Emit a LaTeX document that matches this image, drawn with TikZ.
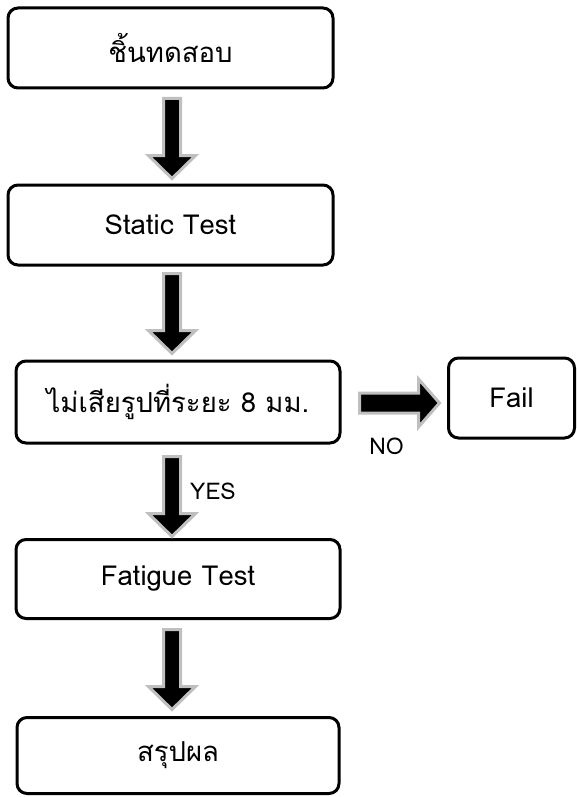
\documentclass[tikz,border=0pt]{standalone}
\usepackage{fontspec}
\setmainfont[Script=Thai]{Loma}
\usetikzlibrary{calc}
\tikzset{
  box/.style={draw=black, line width=3pt, rounded corners=10pt, fill=white, inner sep=0pt, font=\fontsize{27.5}{30}\selectfont},
  blockarrow/.style={fill=black, draw=black!25, line width=3pt, line join=miter},
  lbl/.style={inner sep=0pt, font=\fontsize{23}{26}\selectfont},
  downblk/.pic={\draw[blockarrow] (-8.5,0) -- (8.5,0) -- (8.5,57) -- (23.5,57) -- (0,80) -- (-23.5,57) -- (-8.5,57) -- cycle;},
  rightblk/.pic={\draw[blockarrow] (0,-10) -- (59,-10) -- (59,-24) -- (80,0) -- (59,24) -- (59,10) -- (0,10) -- cycle;}
}
\begin{document}
\begin{tikzpicture}[x=1pt, y=-1pt]
\useasboundingbox (0,0) rectangle (576,797);
\node[box, minimum width=325pt, minimum height=80pt] (b1) at (170.5,48) {ชิ้นทดสอบ};
\node[box, minimum width=325pt, minimum height=80pt] (b2) at (170.5,225) {Static Test};
\node[box, minimum width=324pt, minimum height=82pt] (b3) at (178,402) {ไม่เสียรูปที่ระยะ 8 มม.};
\node[box, minimum width=126pt, minimum height=80pt] (fail) at (511.5,398) {Fail};
\node[box, minimum width=324pt, minimum height=79pt] (b4) at (178,579) {Fatigue Test};
\node[box, minimum width=322pt, minimum height=76pt] (b5) at (178,755.5) {สรุปผล};
\pic at ($(b1.south)+(1.5,9)$) {downblk};
\pic at ($(b2.south)+(1.5,7)$) {downblk};
\pic at ($(b3.south)+(-6,12)$) {downblk};
\pic at ($(b4.south)+(-6,9.5)$) {downblk};
\pic at ($(b3.east)+(18,1)$) {rightblk};
\node[lbl] (no) at ($(b3.east)+(45,44)$) {NO};
\node[lbl] (yes) at ($(b3.south)+(35,47)$) {YES};
\end{tikzpicture}
\end{document}
